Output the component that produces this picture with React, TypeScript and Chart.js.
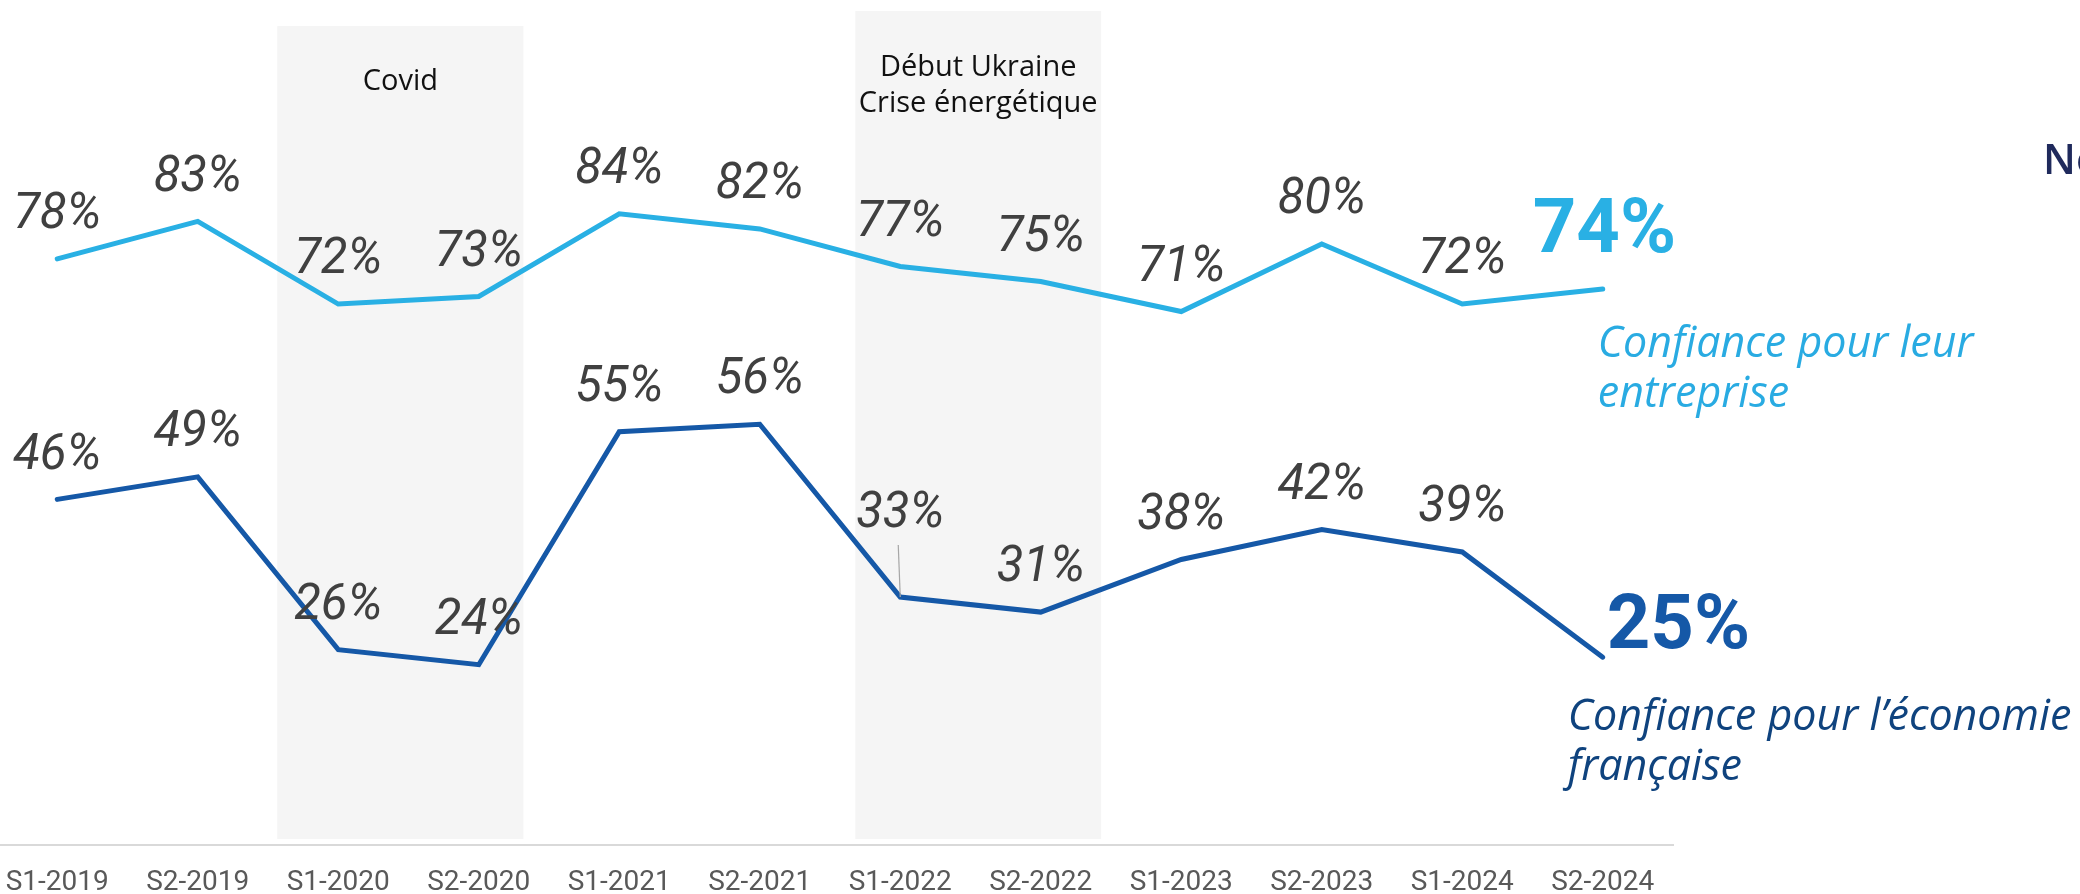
import React, { useEffect, useRef } from "react";
import { Chart, registerables } from "chart.js";

Chart.register(...registerables);

const categories = [
  "S1-2019", "S2-2019", "S1-2020", "S2-2020", "S1-2021", "S2-2021",
  "S1-2022", "S2-2022", "S1-2023", "S2-2023", "S1-2024", "S2-2024",
];
const entrepriseValues = [78, 83, 72, 73, 84, 82, 77, 75, 71, 80, 72, 74];
const economieValues = [46, 49, 26, 24, 55, 56, 33, 31, 38, 42, 39, 25];

const entrepriseLabel = ["Confiance pour leur", "entreprise"];
const economieLabel = ["Confiance pour l\u2019économie", "française"];

// shaded periods (category index range, y top value)
const periodNames = [["Covid"], ["Début Ukraine", "Crise énergétique"]];
const periodStart = [1.566, 5.68];
const periodEnd = [3.318, 7.43];
const periodTop = [109, 111];

const LIGHT = "#29B0E4";
const DARK = "#1558A7";
const DARK_TEXT = "#0F437E";
const LABEL_GREY = "#404040";

const CANVAS_W = 2093;
const CANVAS_H = 921;

const overlayPlugin = {
  id: "overlay",
  beforeDatasetsDraw(chart: any) {
    const { ctx, scales } = chart;
    const x = scales.x;
    const y = scales.y;
    ctx.save();
    for (let i = 0; i < periodStart.length; i++) {
      const x0 = x.getPixelForValue(periodStart[i]);
      const x1 = x.getPixelForValue(periodEnd[i]);
      const y0 = y.getPixelForValue(periodTop[i]);
      const y1 = y.getPixelForValue(0) - 6;
      ctx.fillStyle = "#F5F5F5";
      ctx.fillRect(x0, y0, x1 - x0, y1 - y0);
      ctx.fillStyle = "#111111";
      ctx.font = "29px 'Open Sans'";
      ctx.textAlign = "center";
      ctx.textBaseline = "alphabetic";
      const cx = (x0 + x1) / 2;
      const lines = periodNames[i];
      const firstBase = lines.length === 1 ? y0 + 64 : y0 + 65;
      lines.forEach((t, k) => ctx.fillText(t, cx, firstBase + k * 36));
    }
    ctx.restore();
  },
  afterDatasetsDraw(chart: any) {
    const { ctx } = chart;
    ctx.save();
    const metas = [chart.getDatasetMeta(0), chart.getDatasetMeta(1)];
    const values = [entrepriseValues, economieValues];
    const n = categories.length;
    ctx.font = "italic 49px Roboto";
    ctx.fillStyle = LABEL_GREY;
    ctx.textAlign = "center";
    ctx.textBaseline = "middle";
    metas.forEach((meta: any, d: number) => {
      for (let i = 0; i < n - 1; i++) {
        const p = meta.data[i];
        let dy = 43;
        if (d === 1 && i === 6) {
          dy = 82;
          ctx.save();
          ctx.strokeStyle = "#A6A6A6";
          ctx.lineWidth = 1.2;
          ctx.beginPath();
          ctx.moveTo(p.x - 2, p.y - 52);
          ctx.lineTo(p.x, p.y);
          ctx.stroke();
          ctx.restore();
        }
        ctx.fillText(values[d][i] + "%", p.x, p.y - dy);
      }
    });

    // final big values
    const pl = metas[0].data[n - 1];
    const pd = metas[1].data[n - 1];
    ctx.textAlign = "left";
    ctx.textBaseline = "alphabetic";
    ctx.font = "bold 76px Roboto";
    ctx.fillStyle = LIGHT;
    ctx.fillText(entrepriseValues[n - 1] + "%", pl.x - 70, pl.y - 37);
    ctx.fillStyle = DARK;
    ctx.fillText(economieValues[n - 1] + "%", pd.x + 4, pd.y - 9);

    // series names
    ctx.font = "italic 43px 'Open Sans'";
    ctx.fillStyle = "#29ABE2";
    entrepriseLabel.forEach((t, k) => ctx.fillText(t, pl.x - 5, pl.y + 68 + k * 50));
    ctx.fillStyle = DARK_TEXT;
    economieLabel.forEach((t, k) => ctx.fillText(t, pd.x - 35, pd.y + 73 + k * 50));

    // cropped note at right edge
    ctx.font = "600 42px 'Open Sans'";
    ctx.fillStyle = "#1F2A5C";
    ctx.fillText("No", chart.width - 37, 174);
    ctx.restore();
  },
};

export default function App() {
  const ref = useRef<HTMLCanvasElement | null>(null);
  useEffect(() => {
    if (!ref.current) return;
    const chart = new Chart(ref.current, {
      type: "line",
      data: {
        labels: categories,
        datasets: [
          {
            label: "Confiance pour leur entreprise",
            data: entrepriseValues,
            borderColor: LIGHT,
            borderWidth: 5,
            pointRadius: 0,
            borderCapStyle: "round",
            borderJoinStyle: "miter",
            tension: 0,
          },
          {
            label: "Confiance pour l'économie française",
            data: economieValues,
            borderColor: DARK,
            borderWidth: 5,
            pointRadius: 0,
            borderCapStyle: "round",
            borderJoinStyle: "miter",
            tension: 0,
          },
        ],
      },
      options: {
        responsive: false,
        animation: false,
        devicePixelRatio: 1,
        layout: { padding: { left: 0, right: 407, top: 11, bottom: 0 } },
        plugins: { legend: { display: false }, tooltip: { enabled: false } },
        scales: {
          x: {
            type: "category",
            offset: true,
            grid: { display: false, drawTicks: false },
            border: { display: true, color: "#D9D9D9", width: 2 },
            ticks: {
              color: "#595959",
              font: { family: "Roboto", size: 28, lineHeight: 1.571 },
              padding: 16,
              maxRotation: 0,
              autoSkip: false,
            },
          },
          y: { display: false, min: 0, max: 111 },
        },
      },
      plugins: [overlayPlugin],
    } as any);
    return () => chart.destroy();
  }, []);
  return (
    <div style={{ position: "absolute", left: -13, top: 0, width: CANVAS_W, height: 894, overflow: "hidden", background: "#fff" }}>
      <canvas ref={ref} width={CANVAS_W} height={CANVAS_H} style={{ display: "block" }} />
    </div>
  );
}
